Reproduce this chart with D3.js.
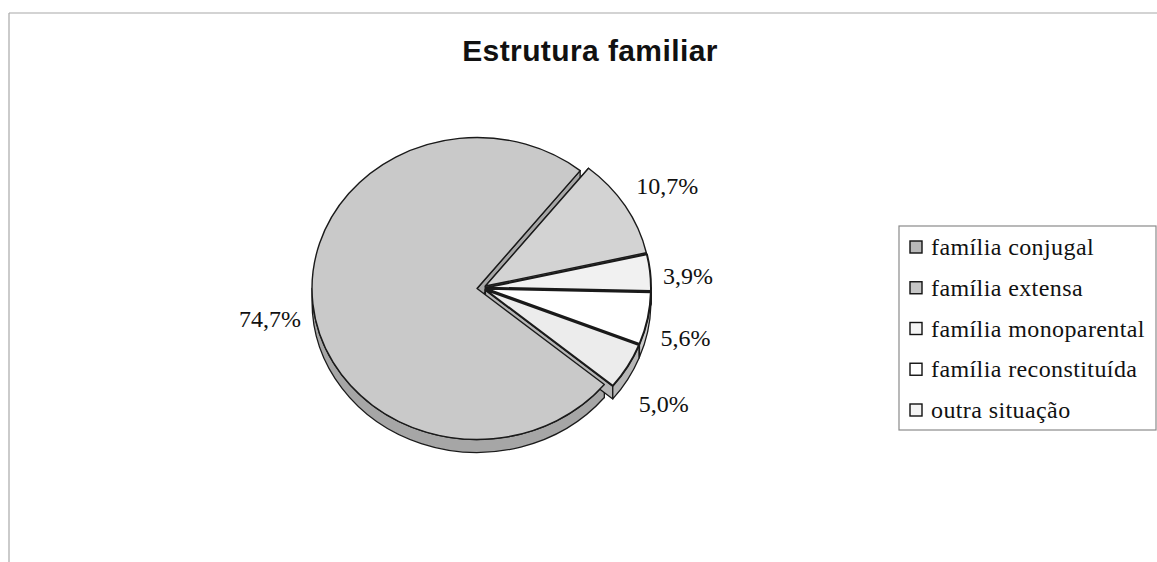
<!DOCTYPE html>
<html><head><meta charset="utf-8">
<script src="https://cdn.jsdelivr.net/npm/d3@7"></script>
<style>
html,body{margin:0;padding:0;background:#fff;}
svg{display:block;}
</style></head>
<body>
<svg id="chart" width="1157" height="562"></svg>
<script>
const title = "Estrutura familiar";
const categories = ["família conjugal","família extensa","família monoparental","família reconstituída","outra situação"];
const values = [74.7, 10.7, 3.9, 5.6, 5.0];
const valueLabels = ["74,7%","10,7%","3,9%","5,6%","5,0%"];

const topColors  = ["#c9c9c9","#d3d3d3","#f1f1f1","#ffffff","#ececec"];
const sideColors = ["#a6a6a6","#aeaeae","#c4c4c4","#cccccc","#b6b6b6"];
const legendColors = ["#b9b9b9","#c6c6c6","#f4f4f4","#ffffff","#f4f4f4"];
const explode = [5,4,4,4,4];

const svg = d3.select("#chart");
const cx = 482, cy = 288, rx = 165, ry = 151, depth = 13;
const deg = Math.PI/180;

// frame
svg.append("line").attr("x1",9).attr("y1",13).attr("x2",1157).attr("y2",13).attr("stroke","#a8a8a8").attr("stroke-width",1.2);
svg.append("line").attr("x1",9).attr("y1",13).attr("x2",9).attr("y2",562).attr("stroke","#a8a8a8").attr("stroke-width",1.2);

svg.append("text").attr("x",590).attr("y",61).attr("text-anchor","middle")
  .attr("font-family","'Liberation Sans', Arial, sans-serif").attr("font-weight","bold")
  .attr("font-size",30).attr("letter-spacing",0.4).attr("fill","#111").text(title);

const xS = d3.scaleLinear().domain([-1,1]).range([cx-rx, cx+rx]);
const yS = d3.scaleLinear().domain([-1,1]).range([cy-ry, cy+ry]);
const lxS = d3.scaleLinear().domain([-1,1]).range([cx-182, cx+182]);
const lyS = d3.scaleLinear().domain([-1,1]).range([cy+9-210, cy+9+210]);

const start = 129.5*deg;
const pie = d3.pie().sort(null).value(d=>d).startAngle(start).endAngle(start+2*Math.PI);
const arcs = pie(values);

function P(a, o, dz){ return [xS(Math.sin(a)) + o[0], yS(-Math.cos(a)) + o[1] + (dz||0)]; }
function offset(d,i){
  const m = (d.startAngle+d.endAngle)/2;
  const e = explode[i];
  return [e*Math.sin(m), -e*(ry/rx)*Math.cos(m)];
}

const gWalls = svg.append("g"), gTops = svg.append("g");
arcs.forEach((d,i)=>{
  const o = offset(d,i);
  const s = d.startAngle, e = d.endAngle;
  const ap = [cx+o[0], cy+o[1]];
  [s,e].forEach(a=>{
    const p = P(a,o);
    gWalls.append("path")
      .attr("d",`M${ap[0]},${ap[1]}L${p[0]},${p[1]}L${p[0]},${p[1]+depth}L${ap[0]},${ap[1]+depth}Z`)
      .attr("fill",sideColors[i]).attr("stroke","#1a1a1a").attr("stroke-width",1.3).attr("stroke-linejoin","round");
  });
  [0, 2*Math.PI].forEach(k=>{
    const lo = Math.max(s, Math.PI/2+k), hi = Math.min(e, 1.5*Math.PI+k);
    if (lo < hi){
      const a0 = P(lo,o), a1 = P(hi,o);
      gWalls.append("path")
        .attr("d",`M${a0[0]},${a0[1]}A${rx},${ry} 0 0 1 ${a1[0]},${a1[1]}L${a1[0]},${a1[1]+depth}A${rx},${ry} 0 0 0 ${a0[0]},${a0[1]+depth}Z`)
        .attr("fill",sideColors[i]).attr("stroke","#1a1a1a").attr("stroke-width",1.3).attr("stroke-linejoin","round");
    }
  });
  const p0 = P(s,o), p1 = P(e,o);
  const large = (e-s) > Math.PI ? 1 : 0;
  gTops.append("path")
    .attr("d",`M${ap[0]},${ap[1]}L${p0[0]},${p0[1]}A${rx},${ry} 0 ${large} 1 ${p1[0]},${p1[1]}Z`)
    .attr("fill",topColors[i]).attr("stroke","#1a1a1a").attr("stroke-width",i>=2?2.0:1.4).attr("stroke-linejoin","round");
});

// value labels
svg.append("g").selectAll("text").data(arcs).join("text")
  .attr("x",d=>{const m=(d.startAngle+d.endAngle)/2; return lxS(Math.sin(m));})
  .attr("y",d=>{const m=(d.startAngle+d.endAngle)/2; return lyS(-Math.cos(m))+8;})
  .attr("text-anchor",d=>{const m=(d.startAngle+d.endAngle)/2; return Math.sin(m)<0?"end":"start";})
  .attr("font-family","'Liberation Serif','Times New Roman',serif").attr("font-size",24).attr("fill","#111")
  .text((d,i)=>valueLabels[i]);

// legend
const lg = svg.append("g");
lg.append("rect").attr("x",899).attr("y",226).attr("width",257).attr("height",204)
  .attr("fill","#fff").attr("stroke","#8a8a8a").attr("stroke-width",1.2);
const ly = d3.scaleLinear().domain([0,4]).range([247,410]);
categories.forEach((c,i)=>{
  lg.append("rect").attr("x",910).attr("y",ly(i)-6).attr("width",12).attr("height",12)
    .attr("fill",legendColors[i]).attr("stroke","#111").attr("stroke-width",1.4);
  lg.append("text").attr("x",931).attr("y",ly(i)+8)
    .attr("font-family","'Liberation Serif','Times New Roman',serif").attr("font-size",24)
    .attr("letter-spacing",0.4).attr("fill","#111").text(c);
});
</script>
</body></html>
